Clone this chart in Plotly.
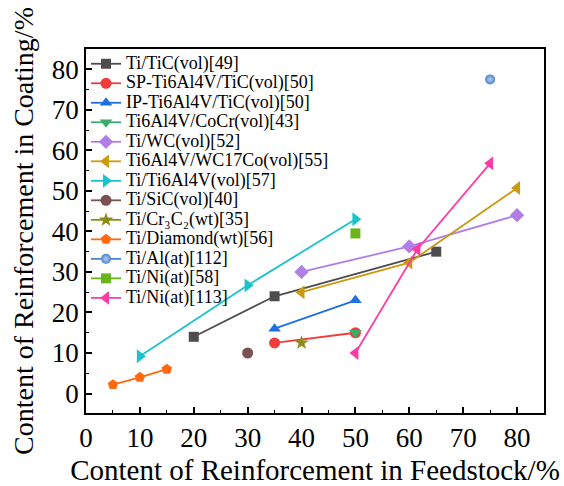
import plotly.graph_objects as go

# ---- data ----
names = [
    "Ti/TiC(vol)[49]",
    "SP-Ti6Al4V/TiC(vol)[50]",
    "IP-Ti6Al4V/TiC(vol)[50]",
    "Ti6Al4V/CoCr(vol)[43]",
    "Ti/WC(vol)[52]",
    "Ti6Al4V/WC17Co(vol)[55]",
    "Ti/Ti6Al4V(vol)[57]",
    "Ti/SiC(vol)[40]",
    "Ti/Cr\u2083C\u2082(wt)[35]",
    "Ti/Diamond(wt)[56]",
    "Ti/Al(at)[112]",
    "Ti/Ni(at)[58]",
    "Ti/Ni(at)[113]",
]
tic_x = [20, 35, 65]
tic_y = [14, 24, 35]
sp_x = [35, 50]
sp_y = [12.5, 15]
ip_x = [35, 50]
ip_y = [16, 23]
cocr_x = [50]
cocr_y = [15]
wc_x = [40, 60, 80]
wc_y = [30, 36.3, 44]
wc17_x = [40, 60, 80]
wc17_y = [25, 32.3, 50.7]
ti64_x = [10, 30, 50]
ti64_y = [9.2, 26.7, 43]
sic_x = [30]
sic_y = [10]
cr_x = [40]
cr_y = [12.5]
dia_x = [5, 10, 15]
dia_y = [2.2, 4, 6]
al_x = [75]
al_y = [77.5]
ni58_x = [50]
ni58_y = [39.5]
ni113_x = [50, 61.5, 75]
ni113_y = [10, 35.6, 56.8]

xs = [tic_x, sp_x, ip_x, cocr_x, wc_x, wc17_x, ti64_x, sic_x, cr_x, dia_x, al_x, ni58_x, ni113_x]
ys = [tic_y, sp_y, ip_y, cocr_y, wc_y, wc17_y, ti64_y, sic_y, cr_y, dia_y, al_y, ni58_y, ni113_y]

colors = ["#4d4d4d", "#f03c3c", "#1f6fe0", "#3caa6a", "#b07ee6", "#cc9a10",
          "#19c3cc", "#7a5050", "#8c8c14", "#ff6a10", "#4a84cc", "#6cb41c", "#ff3ca6"]
symbols = ["square", "circle", "triangle-up", "triangle-down", "diamond", "triangle-left",
           "triangle-right", "circle", "star", "pentagon", "circle", "square", "triangle-left"]
sizes = [10, 11, 11, 11, 11, 12, 12, 11, 11, 11, 10, 10, 12]

FONT = "Liberation Serif, Times New Roman, serif"

fig = go.Figure()
for i in range(len(names)):
    marker = dict(color=colors[i], symbol=symbols[i], size=sizes[i], line=dict(width=0))
    if i == 10:
        marker["gradient"] = dict(type="radial", color="#b5d0f0")
    fig.add_trace(go.Scatter(
        x=xs[i], y=ys[i], mode="lines+markers",
        name='<span style="font-size:18px">' + names[i] + '</span>',
        line=dict(color=colors[i], width=1.8),
        marker=marker,
    ))

axis_common = dict(
    showline=True, linecolor="black", linewidth=1.5, mirror=True,
    ticks="inside", ticklen=6, tickwidth=1.5, tickcolor="black",
    showgrid=False, zeroline=False, automargin=False,
    tickfont=dict(family=FONT, size=27, color="black"),
    minor=dict(ticks="inside", ticklen=3, tickwidth=1.2, tickcolor="black", dtick=5),
)

fig.update_xaxes(range=[0, 85], dtick=10, tick0=0,
                 title=dict(text="Content of Reinforcement in Feedstock/%",
                            font=dict(family=FONT, size=29, color="black"), standoff=8),
                 **axis_common)
fig.update_yaxes(range=[-4.8, 85], dtick=10, tick0=0,
                 title=dict(text="Content of Reinforcement in Coating/%",
                            font=dict(family=FONT, size=28, color="black"), standoff=10),
                 **axis_common)

fig.update_layout(
    width=564, height=486,
    margin=dict(l=86, r=20, t=49, b=73),
    plot_bgcolor="white", paper_bgcolor="white",
    font=dict(family=FONT, color="black"),
    legend=dict(x=0, y=1, xanchor="left", yanchor="top",
                bgcolor="rgba(0,0,0,0)", borderwidth=0,
                font=dict(family=FONT, size=12.7, color="black"),
                tracegroupgap=0),
)

fig.write_html("out.html")
